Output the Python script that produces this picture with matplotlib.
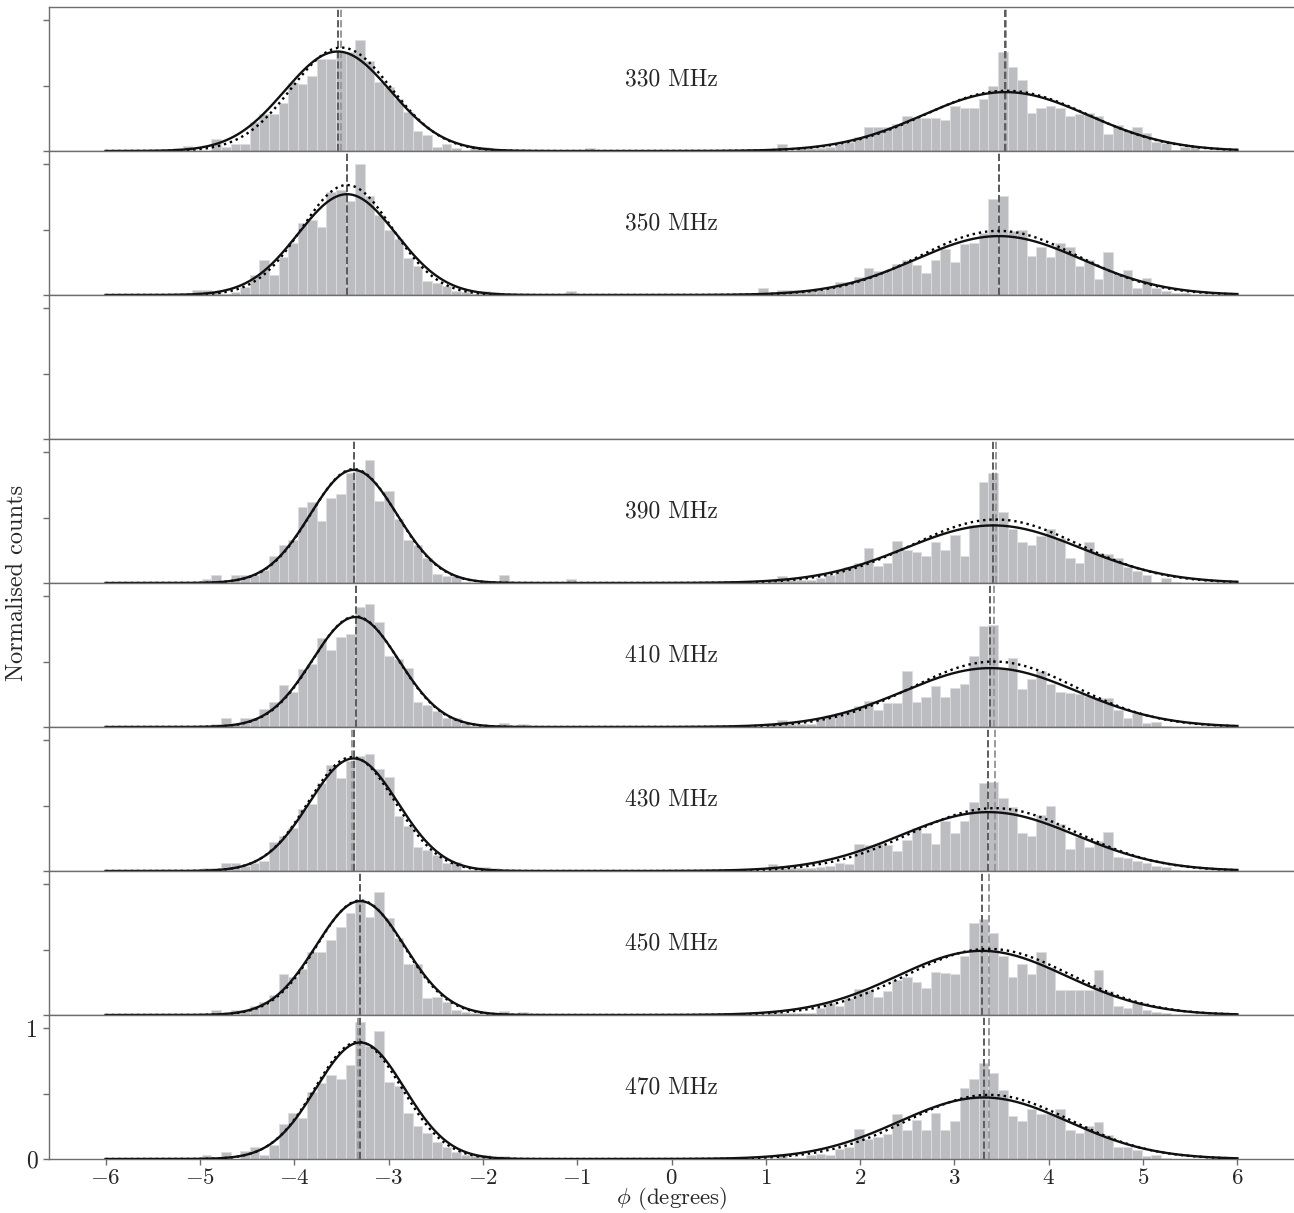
import numpy as np
import matplotlib
matplotlib.use("Agg")
import matplotlib.pyplot as plt

plt.rcParams["font.family"] = "cmr10"
plt.rcParams["mathtext.fontset"] = "cm"
plt.rcParams["axes.formatter.use_mathtext"] = True
plt.rcParams["font.size"] = 17

# ---- observing frequencies (one panel each; 370 MHz has no data) ----
freq_labels = ["330 MHz", "350 MHz", None, "390 MHz", "410 MHz", "430 MHz", "450 MHz", "470 MHz"]

# ---- histogram binning (degrees) ----
BIN_WIDTH = 0.1017
LEFT_FIRST_EDGE = -5.2854    # first edge of the negative-phi block
RIGHT_FIRST_EDGE = 0.8166    # first edge of the positive-phi block

# normalised counts, negative-phi component (44 bins)
left_330 = [0.02, 0.04, 0.0, 0.0, 0.09, 0.03, 0.05, 0.05, 0.22, 0.28, 0.28, 0.37, 0.52, 0.51, 0.57,
            0.70, 0.70, 0.76, 0.76, 0.85, 0.69, 0.53, 0.49, 0.40, 0.30, 0.15, 0.12, 0.03, 0.05, 0.02,
            0.0, 0.03, 0.03, 0.0, 0.0, 0.0, 0.0, 0.0, 0.0, 0.0, 0.0, 0.0, 0.0, 0.02]
left_350 = [0.0, 0.0, 0.04, 0.04, 0.02, 0.01, 0.02, 0.06, 0.15, 0.27, 0.15, 0.29, 0.40, 0.55, 0.57,
            0.52, 0.79, 0.80, 0.72, 1.00, 0.76, 0.61, 0.50, 0.43, 0.28, 0.22, 0.11, 0.09, 0.07, 0.03,
            0.02, 0.01, 0.03, 0.02, 0.0, 0.0, 0.0, 0.0, 0.0, 0.0, 0.0, 0.03, 0.0, 0.0]
left_390 = [0.0, 0.0, 0.0, 0.03, 0.06, 0.0, 0.06, 0.06, 0.06, 0.10, 0.21, 0.29, 0.33, 0.58, 0.62,
            0.47, 0.65, 0.68, 0.84, 0.86, 0.94, 0.63, 0.70, 0.49, 0.33, 0.29, 0.19, 0.07, 0.05, 0.05,
            0.01, 0.0, 0.0, 0.0, 0.06, 0.0, 0.0, 0.0, 0.0, 0.0, 0.0, 0.03, 0.0, 0.0]
left_410 = [0.0, 0.0, 0.0, 0.0, 0.02, 0.07, 0.02, 0.07, 0.07, 0.14, 0.19, 0.32, 0.27, 0.44, 0.48,
            0.68, 0.59, 0.69, 0.71, 0.92, 0.94, 0.80, 0.54, 0.52, 0.45, 0.19, 0.17, 0.12, 0.07, 0.07,
            0.03, 0.01, 0.01, 0.01, 0.03, 0.0, 0.02, 0.0, 0.0, 0.0, 0.0, 0.0, 0.0, 0.0]
left_430 = [0.0, 0.0, 0.01, 0.02, 0.02, 0.06, 0.06, 0.04, 0.06, 0.08, 0.22, 0.27, 0.33, 0.47, 0.51,
            0.67, 0.81, 0.71, 0.84, 0.88, 0.89, 0.78, 0.72, 0.42, 0.34, 0.18, 0.16, 0.12, 0.06, 0.07,
            0.01, 0.01, 0.03, 0.02, 0.01, 0.0, 0.0, 0.0, 0.0, 0.0, 0.0, 0.0, 0.0, 0.0]
left_450 = [0.0, 0.0, 0.0, 0.0, 0.04, 0.015, 0.04, 0.04, 0.07, 0.10, 0.15, 0.31, 0.29, 0.35, 0.48,
            0.48, 0.57, 0.67, 0.78, 0.87, 0.75, 0.94, 0.74, 0.59, 0.39, 0.39, 0.13, 0.14, 0.10, 0.04,
            0.02, 0.015, 0.01, 0.01, 0.03, 0.0, 0.02, 0.0, 0.0, 0.0, 0.0, 0.0, 0.0, 0.0]
left_470 = [0.0, 0.0, 0.0, 0.03, 0.005, 0.05, 0.0, 0.06, 0.09, 0.03, 0.11, 0.27, 0.35, 0.31, 0.51,
            0.58, 0.64, 0.61, 0.72, 1.05, 0.86, 0.98, 0.59, 0.56, 0.35, 0.25, 0.20, 0.13, 0.09, 0.05,
            0.03, 0.02, 0.03, 0.01, 0.02, 0.0, 0.0, 0.0, 0.0, 0.0, 0.0, 0.0, 0.0, 0.0]

# normalised counts, positive-phi component (47 bins)
right_330 = [0.0, 0.0, 0.0, 0.05, 0.0, 0.02, 0.02, 0.02, 0.03, 0.05, 0.07, 0.11, 0.18, 0.18, 0.18,
             0.21, 0.27, 0.25, 0.25, 0.25, 0.24, 0.34, 0.33, 0.33, 0.40, 0.50, 0.76, 0.64, 0.54, 0.29,
             0.33, 0.34, 0.33, 0.27, 0.28, 0.29, 0.27, 0.13, 0.20, 0.16, 0.18, 0.14, 0.07, 0.06, 0.01,
             0.03, 0.03]
right_350 = [0.0, 0.05, 0.01, 0.035, 0.035, 0.04, 0.04, 0.035, 0.06, 0.10, 0.10, 0.14, 0.21, 0.18, 0.19,
             0.24, 0.27, 0.23, 0.17, 0.27, 0.35, 0.25, 0.39, 0.40, 0.47, 0.73, 0.76, 0.49, 0.50, 0.30,
             0.37, 0.29, 0.40, 0.37, 0.22, 0.27, 0.12, 0.33, 0.16, 0.19, 0.05, 0.13, 0.05, 0.03, 0.015,
             0.015, 0.0]
right_390 = [0.0, 0.0, 0.02, 0.05, 0.02, 0.02, 0.02, 0.04, 0.06, 0.09, 0.12, 0.15, 0.27, 0.13, 0.15,
             0.32, 0.25, 0.24, 0.21, 0.31, 0.25, 0.37, 0.21, 0.44, 0.77, 0.84, 0.54, 0.41, 0.31, 0.29,
             0.36, 0.41, 0.34, 0.19, 0.15, 0.31, 0.23, 0.22, 0.19, 0.12, 0.09, 0.06, 0.005, 0.04, 0.01,
             0.0, 0.0]
right_410 = [0.0, 0.0, 0.02, 0.05, 0.02, 0.02, 0.02, 0.06, 0.09, 0.11, 0.12, 0.16, 0.20, 0.13, 0.18,
             0.18, 0.43, 0.19, 0.23, 0.31, 0.23, 0.30, 0.33, 0.54, 0.77, 0.78, 0.45, 0.53, 0.29, 0.37,
             0.43, 0.33, 0.27, 0.26, 0.25, 0.24, 0.22, 0.22, 0.13, 0.07, 0.11, 0.03, 0.04, 0.01, 0.0,
             0.0, 0.0]
right_430 = [0.0, 0.0, 0.05, 0.02, 0.02, 0.02, 0.02, 0.03, 0.04, 0.06, 0.05, 0.21, 0.20, 0.21, 0.20,
             0.15, 0.24, 0.33, 0.29, 0.21, 0.38, 0.29, 0.38, 0.53, 0.67, 0.68, 0.56, 0.49, 0.29, 0.27,
             0.43, 0.50, 0.36, 0.17, 0.26, 0.18, 0.23, 0.30, 0.11, 0.10, 0.08, 0.06, 0.04, 0.03, 0.01,
             0.0, 0.0]
right_450 = [0.0, 0.0, 0.02, 0.015, 0.015, 0.015, 0.015, 0.05, 0.09, 0.07, 0.13, 0.20, 0.19, 0.14, 0.18,
             0.27, 0.29, 0.25, 0.21, 0.33, 0.32, 0.31, 0.45, 0.70, 0.73, 0.63, 0.45, 0.29, 0.39, 0.31,
             0.48, 0.37, 0.19, 0.19, 0.19, 0.19, 0.34, 0.18, 0.07, 0.05, 0.09, 0.04, 0.02, 0.015, 0.0,
             0.0, 0.0]
right_470 = [0.0, 0.0, 0.0, 0.04, 0.01, 0.01, 0.03, 0.04, 0.03, 0.08, 0.09, 0.23, 0.15, 0.17, 0.19,
             0.34, 0.22, 0.30, 0.22, 0.35, 0.22, 0.29, 0.54, 0.61, 0.73, 0.66, 0.53, 0.33, 0.29, 0.38,
             0.34, 0.34, 0.38, 0.22, 0.20, 0.25, 0.28, 0.18, 0.09, 0.09, 0.07, 0.02, 0.03, 0.005, 0.0,
             0.0, 0.0]

left_counts = [left_330, left_350, None, left_390, left_410, left_430, left_450, left_470]
right_counts = [right_330, right_350, None, right_390, right_410, right_430, right_450, right_470]

# ---- two-component Gaussian models: centre, amplitude, width (degrees) ----
nan = np.nan
solid_left_mu = [-3.54, -3.44, nan, -3.37, -3.35, -3.37, -3.30, -3.30]
solid_left_amp = [0.76, 0.77, nan, 0.864, 0.84, 0.86, 0.87, 0.89]
solid_left_sig = [0.56, 0.52, nan, 0.46, 0.46, 0.47, 0.47, 0.47]
solid_right_mu = [3.54, 3.47, nan, 3.41, 3.38, 3.36, 3.29, 3.31]
solid_right_amp = [0.45, 0.45, nan, 0.44, 0.45, 0.45, 0.49, 0.47]
solid_right_sig = [0.88, 0.88, nan, 0.93, 0.92, 0.93, 0.90, 0.90]

dotted_left_mu = [-3.50, -3.44, nan, -3.37, -3.35, -3.39, -3.30, -3.32]
dotted_left_amp = [0.79, 0.84, nan, 0.87, 0.845, 0.87, 0.875, 0.895]
dotted_left_sig = [0.53, 0.48, nan, 0.455, 0.455, 0.46, 0.46, 0.46]
dotted_right_mu = [3.55, 3.47, nan, 3.44, 3.42, 3.425, 3.365, 3.37]
dotted_right_amp = [0.46, 0.49, nan, 0.485, 0.50, 0.48, 0.505, 0.49]
dotted_right_sig = [0.86, 0.84, nan, 0.88, 0.87, 0.88, 0.87, 0.86]


def gauss(x, mu, amp, sig):
    return amp * np.exp(-0.5 * ((x - mu) / sig) ** 2)


BAR_COLOR = "#bcbdc1"
SPINE_COLOR = "#6e6e6e"
TEXT_COLOR = "#262626"

fig = plt.figure(figsize=(12.94, 12.13), dpi=100)
axes = fig.subplots(len(freq_labels), 1, sharex=True, gridspec_kw=dict(hspace=0))
fig.subplots_adjust(left=49 / 1294, right=1.0, top=1 - 7 / 1213, bottom=1 - 1159 / 1213)

phi = np.linspace(-6, 6, 1200)

for i, ax in enumerate(axes):
    if left_counts[i] is not None:
        for counts, first_edge in ((left_counts[i], LEFT_FIRST_EDGE), (right_counts[i], RIGHT_FIRST_EDGE)):
            counts = np.asarray(counts)
            centres = first_edge + (np.arange(counts.size) + 0.5) * BIN_WIDTH
            keep = counts > 0
            ax.bar(centres[keep], counts[keep], width=BIN_WIDTH, color=BAR_COLOR,
                   edgecolor="#dedee0", linewidth=0.6, zorder=1)

        model_solid = (gauss(phi, solid_left_mu[i], solid_left_amp[i], solid_left_sig[i])
                       + gauss(phi, solid_right_mu[i], solid_right_amp[i], solid_right_sig[i]))
        model_dotted = (gauss(phi, dotted_left_mu[i], dotted_left_amp[i], dotted_left_sig[i])
                        + gauss(phi, dotted_right_mu[i], dotted_right_amp[i], dotted_right_sig[i]))

        for mu in (dotted_left_mu[i], dotted_right_mu[i]):
            ax.axvline(mu, color="#9a9a9a", ls="--", lw=1.4, zorder=2)
        for mu in (solid_left_mu[i], solid_right_mu[i]):
            ax.axvline(mu, color="#5c5c5c", ls="--", lw=1.4, zorder=2)

        ax.plot(phi, model_dotted, color="black", ls=":", lw=1.7, zorder=3)
        ax.plot(phi, model_solid, color="#111111", ls="-", lw=1.7, zorder=4)

        ax.text(0.5, 0.5, freq_labels[i], transform=ax.transAxes, ha="center", va="center",
                color=TEXT_COLOR, fontsize=17)

    ax.set_ylim(0, 1.1)
    ax.set_xlim(-6.6, 6.6)
    ax.set_yticks([0, 0.5, 1])
    ax.spines["right"].set_visible(False)
    for side in ("left", "top", "bottom"):
        ax.spines[side].set_color(SPINE_COLOR)
        ax.spines[side].set_linewidth(1.0)
    ax.tick_params(axis="both", colors=SPINE_COLOR, labelcolor=TEXT_COLOR, length=4.5, width=1.0,
                   labelsize=17)
    if i < len(axes) - 1:
        ax.set_yticklabels([])
        ax.tick_params(axis="x", bottom=False, labelbottom=False)
    else:
        ax.set_yticklabels(["0", "", "1"])
        ax.set_xticks(np.arange(-6, 7, 1))
        ax.tick_params(axis="x", pad=2.0, labelsize=16.5)

fig.text(17 / 1294, 1 - 583 / 1213, "Normalised counts", rotation=90, ha="center", va="center",
         fontsize=17.5, color=TEXT_COLOR)
fig.text(672 / 1294, 1 - 1199 / 1213, r"$\phi$ (degrees)", ha="center", va="center",
         fontsize=16.5, color=TEXT_COLOR)

fig.savefig("out.png", dpi=100)
